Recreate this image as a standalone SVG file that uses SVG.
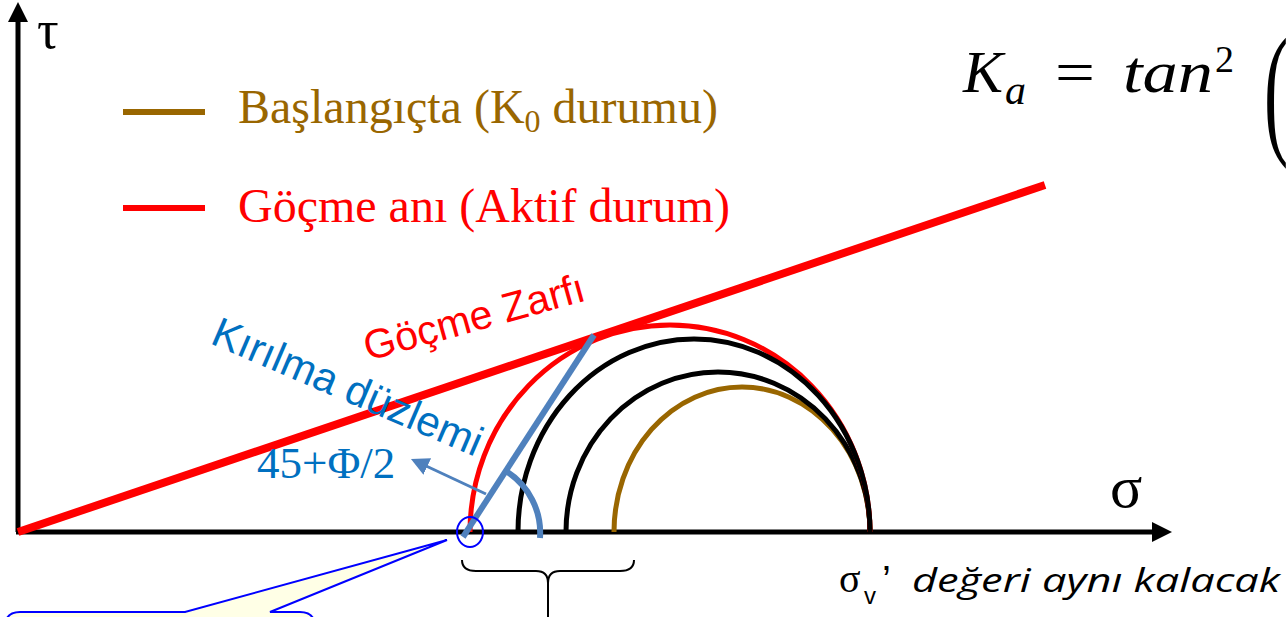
<svg xmlns="http://www.w3.org/2000/svg" width="1286" height="617" viewBox="0 0 1286 617">
<style>
.ser{font-family:"Liberation Serif","Times New Roman",serif}
.san{font-family:"Liberation Sans",Arial,sans-serif}
.arc{fill:none;stroke-width:5}
</style>
<defs>
<marker id="axh" viewBox="0 0 10 10" refX="0" refY="5" markerWidth="4" markerHeight="4" markerUnits="strokeWidth" orient="auto">
<path d="M0,0 L10,5 L0,10 Z" fill="#000"/>
</marker>
<marker id="bh" viewBox="0 0 10 10" refX="2" refY="5" markerWidth="6" markerHeight="6" markerUnits="strokeWidth" orient="auto">
<path d="M0,0 L10,5 L0,10 Z" fill="#4F81BD"/>
</marker>
</defs>
<rect width="1286" height="617" fill="#fff"/>

<g id="callout">
<path d="M20,612 H185 L447,540 L270,612 H300 Q315,612 315,627 V700 H5 V627 Q5,612 20,612 Z" fill="#FFFFE6" stroke="#0000FF" stroke-width="2"/>
</g>

<g id="axes">
<line x1="18" y1="532" x2="18" y2="22" stroke="#000" stroke-width="5" marker-end="url(#axh)"/>
<line x1="16" y1="532" x2="1152" y2="532" stroke="#000" stroke-width="5" marker-end="url(#axh)"/>
<text x="37" y="48" class="ser" font-size="54">τ</text>
<text x="1110" y="507" class="ser" font-size="60">σ</text>
</g>

<g id="legend">
<line x1="123" y1="112" x2="205" y2="112" stroke="#996600" stroke-width="6"/>
<text x="238" y="123" class="ser" font-size="48" fill="#996600">Başlangıçta (K<tspan font-size="32" dy="9">0</tspan><tspan dy="-9"> durumu)</tspan></text>
<line x1="123" y1="208" x2="205" y2="208" stroke="#FF0000" stroke-width="6"/>
<text x="238" y="222" class="ser" font-size="48" fill="#FF0000">Göçme anı (Aktif durum)</text>
</g>

<g id="circles">
<path class="arc" stroke="#996600" d="M614,532 A128,145 0 0 1 870,532"/>
<path class="arc" stroke="#000" d="M566,532 A152,160 0 0 1 870,532"/>
<path class="arc" stroke="#FF0000" d="M470,532 A200,207 0 0 1 870,532"/>
<path class="arc" stroke="#000" d="M518,532 A176,193 0 0 1 870,532"/>
</g>

<g id="envelope">
<line x1="18" y1="532" x2="1045" y2="185" stroke="#FF0000" stroke-width="8"/>
<text class="san" font-size="41" fill="#FF0000" transform="translate(368,361) rotate(-15.5)">Göçme Zarfı</text>
</g>

<g id="failure-plane">
<line x1="463" y1="537" x2="594" y2="335" stroke="#4F81BD" stroke-width="6"/>
<path d="M506,471 A73,73 0 0 1 540,538" fill="none" stroke="#4F81BD" stroke-width="6"/>
<text class="san" font-size="42" fill="#0070C0" transform="translate(209,343) rotate(23.2)">Kırılma düzlemi</text>
</g>

<g id="connectors">
<line x1="486" y1="494" x2="424" y2="465" stroke="#4F81BD" stroke-width="3" marker-end="url(#bh)"/>
</g>

<g id="angle-label">
<text x="257" y="478" font-family="Liberation Serif,Times New Roman,serif" font-size="45" fill="#0070C0">45+Φ/2</text>
</g>

<g id="marker-circle">
<ellipse cx="470" cy="532" rx="13" ry="15" fill="none" stroke="#0000FF" stroke-width="2"/>
</g>

<g id="brace">
<path d="M462,560 Q462,571 476,571 H536 Q548,571 548,583 V617 M548,583 Q548,571 560,571 H620 Q634,571 634,560" fill="none" stroke="#000" stroke-width="2"/>
</g>

<g id="sigma-v">
<text x="839" y="592" class="ser" font-size="40">σ</text>
<text x="864" y="604" class="san" font-size="24">v</text>
<text x="882" y="594" class="san" font-size="40">’</text>
<text x="912" y="592" font-family="Open Sans,Liberation Sans,sans-serif" font-style="italic" font-size="32" textLength="368" lengthAdjust="spacingAndGlyphs">değeri aynı kalacak</text>
</g>

<g id="formula">
<text x="963" y="92" class="ser" font-style="italic" font-size="60">K</text>
<text x="1005" y="104" class="ser" font-style="italic" font-size="42">a</text>
<text x="1055" y="92" class="ser" font-size="60" textLength="40" lengthAdjust="spacingAndGlyphs">=</text>
<text x="1123" y="92" class="ser" font-style="italic" font-size="60" textLength="90" lengthAdjust="spacingAndGlyphs">tan</text>
<text x="1215" y="72" class="ser" font-size="38">2</text>
<text class="ser" font-size="145" transform="translate(1264,138) scale(0.5,1)">(</text>
</g>
</svg>
